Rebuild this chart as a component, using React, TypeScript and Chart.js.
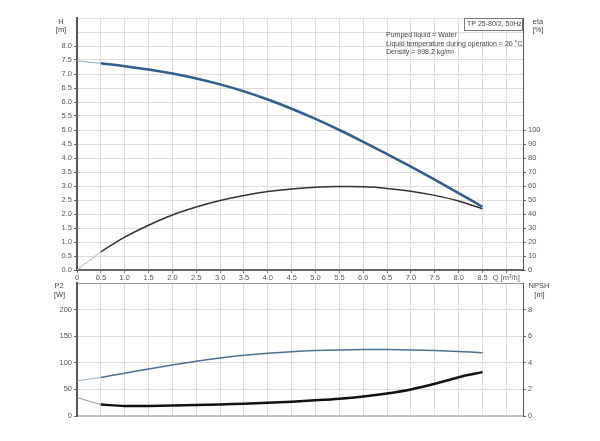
import React, { useEffect, useRef } from 'react';
import { Chart, registerables } from 'chart.js';

Chart.register(...registerables);

// ---------- data ----------
const flow = [0, 0.5, 1.0, 1.5, 2.0, 2.5, 3.0, 3.5, 4.0, 4.5, 5.0, 5.5, 6.0, 6.5, 7.0, 7.5, 8.0, 8.5];
const head = [7.47, 7.38, 7.28, 7.16, 7.015, 6.84, 6.63, 6.38, 6.09, 5.76, 5.395, 5.0, 4.58, 4.14, 3.69, 3.225, 2.745, 2.26];
const eta = [0, 13, 23.5, 32, 39.3, 45, 49.6, 53.2, 56, 57.9, 59.1, 59.6, 59.4, 58.3, 56.3, 53.3, 49.3, 43.8];
const p2 = [66, 72.5, 80.5, 88.5, 96, 103, 109, 114, 118, 121, 123, 124.2, 124.8, 124.8, 124.2, 123, 121.2, 119];
const npsh = [1.38, 0.86, 0.75, 0.76, 0.79, 0.83, 0.87, 0.92, 0.99, 1.08, 1.18, 1.3, 1.47, 1.7, 2.0, 2.42, 2.92, 3.3];

const qTicks = [0, 0.5, 1.0, 1.5, 2.0, 2.5, 3.0, 3.5, 4.0, 4.5, 5.0, 5.5, 6.0, 6.5, 7.0, 7.5, 8.0, 8.5, 9.0];
const hTicks = [0, 0.5, 1.0, 1.5, 2.0, 2.5, 3.0, 3.5, 4.0, 4.5, 5.0, 5.5, 6.0, 6.5, 7.0, 7.5, 8.0, 8.5, 9.0];
const etaTicks = [0, 10, 20, 30, 40, 50, 60, 70, 80, 90, 100];
const p2Ticks = [0, 50, 100, 150, 200, 250];
const npshTicks = [0, 2, 4, 6, 8];

const infoTitle = 'TP 25-80/2, 50Hz';
const infoLines = ['Pumped liquid = Water', 'Liquid temperature during operation = 20 °C', 'Density = 998.2 kg/m³'];

// ---------- helpers ----------
const pts = (ys: number[], from: number, to: number) =>
  flow.slice(from, to).map((x, i) => ({ x, y: ys[from + i] }));

const FONT = 'Liberation Sans, Arial, sans-serif';
const GRID = '#dcdcdc';
const AXIS = '#555';

const fixWidth = (w: number) => (s: any) => {
  s.width = w;
  s.paddingTop = 0; s.paddingBottom = 0; s.paddingLeft = 0; s.paddingRight = 0;
};
const fixHeight = (h: number) => (s: any) => {
  s.height = h;
  s.paddingTop = 0; s.paddingBottom = 0; s.paddingLeft = 0; s.paddingRight = 0;
};
const setTicks = (vals: number[]) => (s: any) => {
  s.ticks = vals.map((v) => ({ value: v }));
};

const line = (data: any[], color: string, width: number, yAxisID: string) => ({
  data,
  borderColor: color,
  borderWidth: width,
  pointRadius: 0,
  fill: false,
  tension: 0.35,
  cubicInterpolationMode: 'default' as const,
  yAxisID,
});

type TextItem = { t: string; x: number; y: number; align?: CanvasTextAlign; size?: number };

const textPlugin = (items: TextItem[], box?: { x: number; y: number; w: number; h: number }) => ({
  id: 'texts',
  afterDraw(chart: any) {
    const ctx = chart.ctx as CanvasRenderingContext2D;
    ctx.save();
    if (box) {
      ctx.fillStyle = '#fff';
      ctx.fillRect(box.x, box.y, box.w, box.h);
      ctx.strokeStyle = '#777';
      ctx.lineWidth = 1;
      ctx.strokeRect(box.x, box.y, box.w, box.h);
    }
    ctx.fillStyle = '#444';
    ctx.textBaseline = 'middle';
    for (const it of items) {
      ctx.font = `${it.size ?? 7.5}px ${FONT}`;
      ctx.textAlign = it.align ?? 'center';
      ctx.fillText(it.t, it.x, it.y);
    }
    ctx.restore();
  },
});

export default function App() {
  const topRef = useRef<HTMLCanvasElement>(null);
  const botRef = useRef<HTMLCanvasElement>(null);

  useEffect(() => {
    Chart.defaults.font.family = FONT;
    Chart.defaults.font.size = 7.5;
    Chart.defaults.color = '#555';

    const top = new Chart(topRef.current!, {
      type: 'line',
      data: {
        datasets: [
          line(pts(head, 0, 2), '#8ea6c2', 1, 'h'),
          line(pts(head, 1, flow.length), '#2e5e92', 2.5, 'h'),
          line(pts(eta, 0, 2), '#aaaaaa', 1, 'eta'),
          line(pts(eta, 1, flow.length), '#333333', 1.5, 'eta'),
        ],
      },
      options: {
        animation: false,
        responsive: false,
        devicePixelRatio: 1,
        events: [],
        layout: { padding: { top: 18, left: 0, right: 0, bottom: 0 } },
        plugins: { legend: { display: false }, tooltip: { enabled: false }, title: { display: false } },
        scales: {
          x: {
            type: 'linear',
            min: 0,
            max: 9.35,
            afterBuildTicks: setTicks(qTicks),
            afterFit: fixHeight(20),
            grid: { color: GRID, lineWidth: 1, tickColor: '#666', tickLength: 3, drawTicks: true },
            border: { color: '#666', width: 2 },
            ticks: {
              padding: 0,
              maxRotation: 0,
              autoSkip: false,
              callback: (v: any) => (v === 9 ? 'Q [m³/h]' : v === 0 ? '0' : Number(v).toFixed(1)),
            },
          },
          h: {
            type: 'linear',
            position: 'left',
            min: 0,
            max: 9,
            afterBuildTicks: setTicks(hTicks),
            afterFit: fixWidth(77),
            grid: {
              color: GRID,
              lineWidth: 1,
              tickLength: 3,
              tickColor: (c: any) => (c.tick && c.tick.value > 8 ? 'rgba(0,0,0,0)' : '#666'),
            },
            border: { color: AXIS, width: 2 },
            ticks: {
              padding: 2,
              autoSkip: false,
              callback: (v: any) => (v > 8 ? '' : Number(v).toFixed(1)),
            },
          },
          eta: {
            type: 'linear',
            position: 'right',
            min: 0,
            max: 180,
            afterBuildTicks: setTicks(etaTicks),
            afterFit: fixWidth(77),
            grid: { drawOnChartArea: false, tickLength: 3, tickColor: '#666' },
            border: { color: AXIS, width: 1 },
            ticks: { padding: 2, autoSkip: false, callback: (v: any) => String(v) },
          },
        },
      } as any,
      plugins: [
        textPlugin(
          [
            { t: 'H', x: 61, y: 21.5 },
            { t: '[m]', x: 61, y: 30 },
            { t: 'eta', x: 538, y: 22 },
            { t: '[%]', x: 538, y: 30 },
            { t: infoTitle, x: 467, y: 24.5, align: 'left', size: 7 },
            { t: infoLines[0], x: 386, y: 35, align: 'left', size: 7 },
            { t: infoLines[1], x: 386, y: 44, align: 'left', size: 7 },
            { t: infoLines[2], x: 386, y: 52.5, align: 'left', size: 7 },
          ],
          { x: 464.5, y: 18.5, w: 58, h: 12 }
        ),
      ],
    });

    const bot = new Chart(botRef.current!, {
      type: 'line',
      data: {
        datasets: [
          line(pts(p2, 0, 2), '#9ab0c8', 1, 'p2'),
          line(pts(p2, 1, flow.length), '#4d6f96', 1.5, 'p2'),
          line(pts(npsh, 0, 2), '#999999', 1, 'npsh'),
          line(pts(npsh, 1, flow.length), '#111111', 2.5, 'npsh'),
        ],
      },
      options: {
        animation: false,
        responsive: false,
        devicePixelRatio: 1,
        events: [],
        layout: { padding: { top: 3, left: 0, right: 0, bottom: 0 } },
        plugins: { legend: { display: false }, tooltip: { enabled: false }, title: { display: false } },
        scales: {
          x: {
            type: 'linear',
            min: 0,
            max: 9.35,
            afterBuildTicks: setTicks(qTicks),
            afterFit: fixHeight(25),
            grid: { color: GRID, lineWidth: 1, drawTicks: false },
            border: { color: '#c4c4c4', width: 2 },
            ticks: { display: false },
          },
          p2: {
            type: 'linear',
            position: 'left',
            min: 0,
            max: 250,
            afterBuildTicks: setTicks(p2Ticks),
            afterFit: fixWidth(77),
            grid: {
              color: (c: any) => (c.tick && c.tick.value === 250 ? '#999' : GRID),
              lineWidth: 1,
              tickLength: 3,
              tickColor: (c: any) => (c.tick && c.tick.value === 250 ? 'rgba(0,0,0,0)' : '#666'),
            },
            border: { color: AXIS, width: 2 },
            ticks: {
              padding: 2,
              autoSkip: false,
              callback: (v: any) => (v === 250 ? '' : String(v)),
            },
          },
          npsh: {
            type: 'linear',
            position: 'right',
            min: 0,
            max: 10,
            afterBuildTicks: setTicks(npshTicks),
            afterFit: fixWidth(77),
            grid: { drawOnChartArea: false, tickLength: 3, tickColor: '#666' },
            border: { color: AXIS, width: 1 },
            ticks: { padding: 2, autoSkip: false, callback: (v: any) => String(v) },
          },
        },
      } as any,
      plugins: [
        textPlugin([
          { t: 'P2', x: 59, y: 6 },
          { t: '[W]', x: 59.5, y: 14.5 },
          { t: 'NPSH', x: 539, y: 6 },
          { t: '[m]', x: 539.5, y: 14.5 },
        ]),
      ],
    });

    return () => {
      top.destroy();
      bot.destroy();
    };
  }, []);

  return (
    <div style={{ position: 'absolute', left: 0, top: 0, width: 600, height: 441, background: '#fff', overflow: 'hidden' }}>
      <canvas ref={botRef} width={600} height={161} style={{ position: 'absolute', left: 0, top: 280, width: 600, height: 161 }} />
      <canvas ref={topRef} width={600} height={290} style={{ position: 'absolute', left: 0, top: 0, width: 600, height: 290 }} />
    </div>
  );
}
